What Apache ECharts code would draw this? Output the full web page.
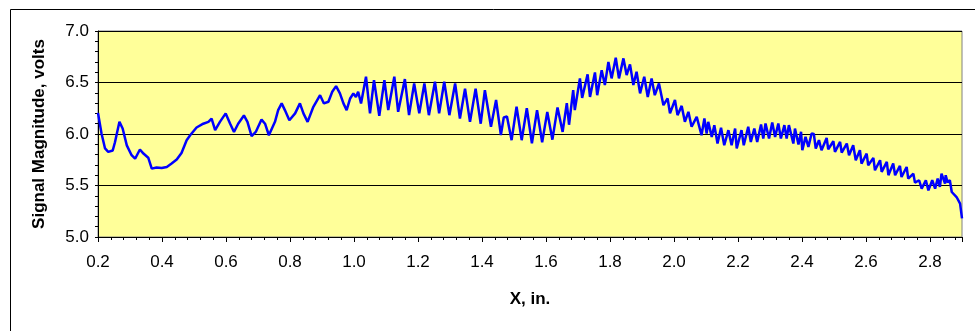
<!DOCTYPE html>
<html><head><meta charset="utf-8">
<script src="https://cdn.jsdelivr.net/npm/echarts@6/dist/echarts.min.js"></script>
<style>html,body{margin:0;padding:0;background:#fff}#c{width:975px;height:331px}</style>
</head><body><div id="c"></div>
<script>
const xValues = [
0.200,0.211,0.222,0.232,0.246,0.253,0.267,0.277,0.290,0.305,0.316,0.331,0.342,0.357,0.368,0.383,0.399,0.415,0.430,0.446,
0.461,0.477,0.488,0.508,0.529,0.545,0.555,0.566,0.581,0.599,0.613,0.625,0.638,0.656,0.667,0.680,0.693,0.711,0.722,0.734,
0.753,0.763,0.774,0.784,0.798,0.816,0.831,0.842,0.855,0.873,0.894,0.906,0.920,0.932,0.944,0.956,0.967,0.977,0.988,0.998,
1.006,1.013,1.022,1.0375,1.050,1.0625,1.079,1.095,1.107,1.126,1.138,1.159,1.172,1.188,1.204,1.220,1.234,1.253,1.266,1.282,
1.298,1.316,1.331,1.347,1.3625,1.380,1.396,1.409,1.428,1.444,1.459,1.468,1.478,1.4925,1.508,1.524,1.540,1.556,1.572,1.588,
1.604,1.620,1.636,1.652,1.665,1.672,1.685,1.690,1.706,1.713,1.730,1.7375,1.753,1.760,1.774,1.784,1.795,1.805,1.818,1.828,
1.842,1.852,1.8625,1.873,1.883,1.894,1.907,1.918,1.930,1.940,1.953,1.967,1.980,1.9875,2.003,2.011,2.024,2.034,2.045,2.055,
2.071,2.086,2.095,2.102,2.107,2.118,2.126,2.136,2.147,2.157,2.170,2.180,2.191,2.196,2.211,2.218,2.232,2.240,2.251,2.260,
2.272,2.279,2.286,2.297,2.307,2.316,2.326,2.334,2.345,2.352,2.359,2.373,2.378,2.389,2.397,2.401,2.411,2.420,2.430,2.437,
2.443,2.453,2.461,2.477,2.482,2.498,2.503,2.519,2.524,2.540,2.547,2.560,2.568,2.581,2.586,2.602,2.607,2.623,2.628,2.644,
2.649,2.665,2.670,2.685,2.691,2.706,2.711,2.727,2.732,2.748,2.753,2.766,2.774,2.787,2.795,2.807,2.816,2.824,2.831,2.836,
2.847,2.849,2.855,2.862,2.868,2.883,2.894,2.900
];
const yValues = [
6.205,6.005,5.86,5.826,5.84,5.92,6.118,6.053,5.89,5.794,5.76,5.85,5.81,5.77,5.664,5.674,5.67,5.68,5.713,5.752,
5.816,5.94,5.988,6.063,6.10,6.118,6.15,6.037,6.118,6.20,6.10,6.02,6.10,6.18,6.118,5.98,6.02,6.14,6.10,5.988,
6.118,6.232,6.297,6.232,6.134,6.20,6.297,6.20,6.118,6.264,6.377,6.297,6.313,6.41,6.465,6.394,6.297,6.232,6.345,6.394,
6.36,6.41,6.297,6.556,6.20,6.523,6.176,6.523,6.232,6.556,6.215,6.533,6.183,6.49,6.20,6.49,6.183,6.507,6.20,6.507,
6.183,6.49,6.15,6.44,6.118,6.44,6.10,6.426,6.07,6.33,5.99,6.16,6.17,5.94,6.264,5.94,6.25,5.91,6.232,5.92,
6.215,5.945,6.258,6.02,6.30,6.09,6.426,6.232,6.54,6.351,6.579,6.36,6.598,6.377,6.62,6.475,6.70,6.54,6.74,6.54,
6.734,6.572,6.676,6.475,6.604,6.394,6.556,6.36,6.54,6.377,6.49,6.28,6.345,6.20,6.33,6.183,6.273,6.118,6.215,6.07,
6.166,5.988,6.150,6.005,6.118,5.972,6.086,5.907,6.06,5.891,6.037,5.891,6.053,5.859,6.037,5.891,6.07,5.923,6.053,5.923,
6.092,5.956,6.102,5.956,6.111,5.972,6.102,5.956,6.086,5.956,6.086,5.907,6.053,5.898,6.021,5.842,5.972,5.875,6.005,6.00,
5.859,5.94,5.842,5.962,5.852,5.93,5.826,5.923,5.82,5.907,5.794,5.891,5.745,5.842,5.713,5.81,5.697,5.768,5.648,5.745,
5.632,5.729,5.60,5.713,5.60,5.69,5.583,5.68,5.567,5.615,5.528,5.551,5.47,5.551,5.453,5.551,5.47,5.567,5.486,5.615,
5.518,5.60,5.53,5.551,5.437,5.388,5.324,5.18
];
const xAxisTitle = 'X, in.';
const yAxisTitle = 'Signal Magnitude, volts';
const xRange = [0.2, 2.9, 0.2];
const yRange = [5.0, 7.0, 0.5];

const seriesData = xValues.map((x, i) => [x, yValues[i]]);
const chart = echarts.init(document.getElementById('c'), null, {renderer: 'canvas'});
const font = '"Liberation Sans", Arial, sans-serif';
chart.setOption({
  animation: false,
  backgroundColor: '#fff',
  graphic: [{
    type: 'rect', left: 8, top: 7, shape: {width: 1000, height: 400},
    style: {fill: 'none', stroke: '#000', lineWidth: 1}, silent: true, z: -1
  }],
  grid: {
    left: 98, right: 13, top: 31, bottom: 94,
    show: true, backgroundColor: '#FFFF99', borderColor: '#808080', borderWidth: 1
  },
  xAxis: {
    type: 'value', min: xRange[0], max: xRange[1], interval: xRange[2],
    name: xAxisTitle, nameLocation: 'middle', nameGap: 54,
    nameTextStyle: {fontFamily: font, fontSize: 17, fontWeight: 'bold', color: '#000'},
    axisLine: {show: true, onZero: false, lineStyle: {color: '#000', width: 1}},
    axisTick: {show: true, length: 5, lineStyle: {color: '#000'}},
    minorTick: {show: true, splitNumber: 5, length: 3, lineStyle: {color: '#000'}},
    splitLine: {show: false},
    axisLabel: {fontFamily: font, fontSize: 17, color: '#000', margin: 17, showMaxLabel: false,
      formatter: v => v.toFixed(1)}
  },
  yAxis: {
    type: 'value', min: yRange[0], max: yRange[1], interval: yRange[2],
    name: yAxisTitle, nameLocation: 'middle', nameGap: 50, nameRotate: 90,
    nameTextStyle: {fontFamily: font, fontSize: 17, fontWeight: 'bold', color: '#000'},
    axisLine: {show: true, lineStyle: {color: '#000', width: 1}},
    axisTick: {show: true, length: 3, lineStyle: {color: '#000'}},
    minorTick: {show: true, splitNumber: 5, length: 3, lineStyle: {color: '#000'}},
    splitLine: {show: true, lineStyle: {color: '#000', width: 1}},
    axisLabel: {fontFamily: font, fontSize: 17, color: '#000', margin: 9,
      formatter: v => v.toFixed(1)}
  },
  series: [{
    type: 'line', data: seriesData, showSymbol: false, symbol: 'none',
    lineStyle: {color: '#0000FF', width: 2.5}, clip: true
  }]
});
</script></body></html>
